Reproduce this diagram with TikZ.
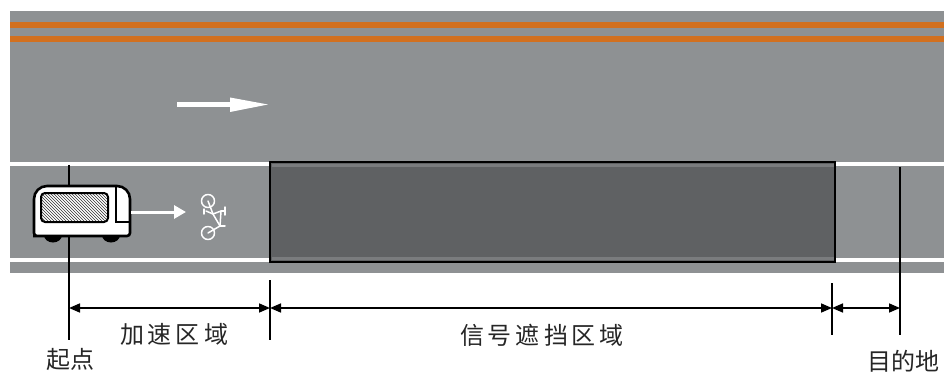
\documentclass[tikz,border=0pt]{standalone}
\usepackage{fontspec}
\newfontfamily\cjk{Noto Sans CJK SC}
\usetikzlibrary{arrows.meta,patterns}
\definecolor{roadgray}{HTML}{8E9193}
\definecolor{zonegray}{HTML}{5F6163}
\definecolor{zoneedge}{HTML}{7A7C7E}
\definecolor{stripeorange}{HTML}{D2701F}
\tikzset{
  tick/.style={line width=1.6pt, black},
  dim/.style={line width=1.6pt, black, {Triangle[length=11pt,width=9pt]}-{Triangle[length=11pt,width=9pt]}},
  label/.style={font=\cjk\fontsize{24}{24}\selectfont, text=black!85, inner sep=0pt},
  laneline/.style={white, line width=4.5pt},
}
\begin{document}
\begin{tikzpicture}[x=1pt,y=-1pt]
\useasboundingbox (0,0) rectangle (944,374);
\fill[white] (0,0) rectangle (944,374);

% road surface
\fill[roadgray] (10,11) rectangle (944,273);
\fill[stripeorange] (10,22) rectangle (944,28.5);
\fill[stripeorange] (10,36) rectangle (944,42.5);

% lane lines
\draw[laneline] (10,164) -- (944,164);
\draw[laneline] (10,260) -- (944,260);

% direction arrow
\fill[white] (177,102) rectangle (232,107.5);
\fill[white] (230,97.5) -- (268,104.5) -- (230,112) -- cycle;

% signal-blocked zone
\fill[zonegray] (270,162) rectangle (835,262);
\fill[zoneedge] (271.5,164) rectangle (833.5,167.5);
\fill[zoneedge] (271.5,256.5) rectangle (833.5,260);
\draw[line width=2.6pt] (270,162) rectangle (835,262);

% reference coordinates
\coordinate (startTop) at (69,165);
\coordinate (startBot) at (69,340);
\coordinate (accTop) at (270,280);
\coordinate (accBot) at (270,340);
\coordinate (zoneTop) at (832,283);
\coordinate (zoneBot) at (832,335);
\coordinate (goalTop) at (900,167);
\coordinate (goalBot) at (900,335);

% vertical markers
\draw[tick] (startTop) -- (startBot);
\draw[tick] (accTop) -- (accBot);
\draw[tick] (zoneTop) -- (zoneBot);
\draw[tick] (goalTop) -- (goalBot);

% vehicle
\fill[black] (53,235) ellipse (9 and 7.5);
\fill[black] (111,235) ellipse (9 and 7.5);
\draw[fill=white, line width=2.6pt]
  (36,236) [rounded corners=3] -- (34,236) [rounded corners=13] -- (34,186)
  -- (130,186) [rounded corners=3] -- (130,236) -- cycle;
\draw[line width=2pt, pattern=north west lines, pattern color=black!80, rounded corners=4]
  (41,193) rectangle (108,222);
\draw[line width=2pt] (116,187) -- (116,222) -- (130,222);

% heading arrow
\coordinate (carFront) at (131,212);
\coordinate (arrowTip) at (186,212);
\draw[white, line width=3pt, -{Triangle[length=12pt,width=13pt]}] (carFront) -- (arrowTip);

% bicycle symbol (side view, turned upright)
\begin{scope}[white, line width=1.5pt, line cap=round, line join=round]
  \draw (208,201) circle (6.5);
  \draw (208,233) circle (6.5);
  \draw (208,201) -- (213,214) -- (221,211) -- (220,226) -- (208,233);
  \draw (213,214) -- (220,226);
  \draw (221,211) -- (225,211);
  \draw (225,207) -- (225,215);
  \draw (220,226) -- (225,226);
  \draw (213,214) -- (206,211);
  \draw (204,209) -- (204,214);
\end{scope}

% dimension lines
\coordinate (d0) at (69,308);
\coordinate (d1) at (270,308);
\coordinate (d2) at (832,308);
\coordinate (d3) at (900,308);
\draw[dim] (d0) -- (d1);
\draw[dim] (d1) -- (d2);
\draw[dim] (d2) -- (d3);

% labels
\node[label] (accLbl) at (174,334) {加\,速\,区\,域};
\node[label] (zoneLbl) at (542,335) {信\,号\,遮\,挡\,区\,域};
\node[label] (startLbl) at (70,359) {起点};
\node[label] (goalLbl) at (903,361) {目的地};
\end{tikzpicture}
\end{document}
